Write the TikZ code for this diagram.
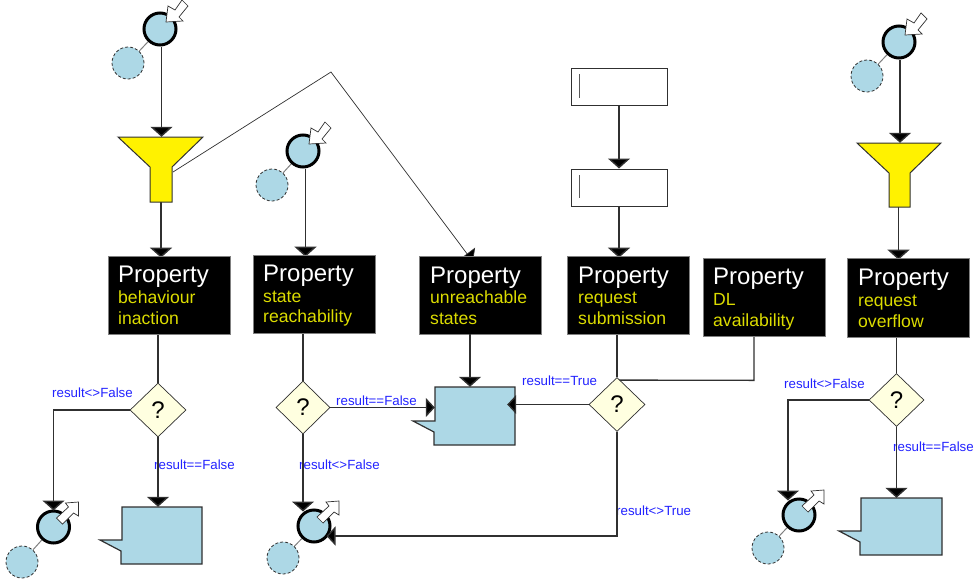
\documentclass[tikz,border=0pt]{standalone}
\usepackage{fontspec}
\setmainfont{Liberation Sans}
\usetikzlibrary{arrows.meta,shapes.geometric,calc}
\definecolor{bluefill}{HTML}{ADD8E6}
\definecolor{lineclr}{HTML}{303030}
\definecolor{labelblue}{HTML}{2222FF}
\definecolor{subyellow}{HTML}{DCDC00}
\definecolor{diamfill}{HTML}{FFFFE0}
\pgfdeclarelayer{bg}
\pgfsetlayers{bg,main}
\tikzset{
  conn/.style={draw=lineclr,line width=1.4pt},
  arr/.style={conn,-{Triangle[width=22pt,length=10pt,fill=black]}},
  arrs/.style={conn,-{Triangle[width=19pt,length=9pt,fill=black]}},
  bigc/.style={circle,draw=black,line width=3pt,fill=bluefill,minimum size=32pt,inner sep=0pt},
  smallc/.style={circle,draw=lineclr,line width=0.8pt,densely dashed,fill=bluefill,minimum size=32pt,inner sep=0pt},
  link/.style={draw=gray,line width=1pt},
  blockarrow/.style={draw=lineclr,line width=0.7pt,fill=white,line join=miter},
  propbox/.style={rectangle,draw=gray,line width=0.6pt,fill=black,inner sep=0pt},
  proptitle/.style={anchor=base west,inner sep=0pt,text=white,font=\fontsize{24}{24}\selectfont},
  propsub/.style={anchor=base west,inner sep=0pt,text=subyellow,font=\fontsize{17.6}{18}\selectfont},
  decide/.style={diamond,shape aspect=1,draw=lineclr,line width=0.7pt,fill=diamfill,inner sep=0pt,font=\fontsize{24}{24}\selectfont},
  cond/.style={anchor=base west,inner sep=0pt,text=labelblue,font=\fontsize{13.3}{14}\selectfont},
  ghost/.style={rectangle,draw=none,inner sep=0pt},
  msgshape/.style={draw=lineclr,line width=1.2pt,fill=bluefill,line join=miter},
  funnelshape/.style={draw=lineclr,line width=1pt,fill=yellow,line join=miter},
  inputbox/.style={rectangle,draw=lineclr,line width=1pt,fill=white,inner sep=0pt,minimum width=96pt,minimum height=37pt},
  cursorbar/.style={draw=gray!70!black,line width=1pt}
}
% start event: name, x, y, small x, small y
\newcommand{\evstart}[5]{%
  \node[smallc] (#1s) at (#4,#5) {};
  \node[bigc] (#1) at (#2,#3) {};
  \begin{pgfonlayer}{bg}\draw[link] (#1) -- (#1s);\end{pgfonlayer}
  \begin{scope}[shift={(#2,#3)}]
    \draw[blockarrow] (6,-7) -- (8,-23) -- (15,-19) -- (22,-29) -- (28,-23) -- (19,-12) -- (23,-8) -- cycle;
  \end{scope}}
\newcommand{\evfinish}[5]{%
  \node[smallc] (#1s) at (#4,#5) {};
  \node[bigc] (#1) at (#2,#3) {};
  \begin{pgfonlayer}{bg}\draw[link] (#1) -- (#1s);\end{pgfonlayer}
  \begin{scope}[shift={(#2,#3)}]
    \draw[blockarrow] (25,-25) -- (12,-24) -- (15,-20) -- (3,-9) -- (9,-3) -- (20,-14) -- (25,-11) -- cycle;
  \end{scope}}
% property: name, left, top, right, bottom, text x, base1, base2, base3, line2, line3
\newcommand{\propblock}[9]{%
  \node[propbox,minimum width=#4pt-#2pt,minimum height=#5pt-#3pt] (#1) at ({(#2+#4)/2},{(#3+#5)/2}) {};
  \def\tx{#6}\def\bA{#7}\def\bB{#8}\def\bC{#9}\propcont{#1}}
\newcommand{\propcont}[3]{%
  \node[proptitle] (#1t) at (\tx,\bA) {Property};
  \node[propsub] (#1a) at (\tx,\bB) {#2};
  \node[propsub] (#1b) at (\tx,\bC) {#3};}
% message: name, left, top, right, bottom, tail y1, tip x, tail y2
\newcommand{\msgblock}[8]{%
  \draw[msgshape] (#2,#3) -- (#4,#3) -- (#4,#5) -- (#2-1,#5) -- (#2-1,#8) -- (#7,#6) -- (#2,#6) -- cycle;
  \node[ghost,minimum width=#4pt-#2pt,minimum height=#5pt-#3pt] (#1) at ({(#2+#4)/2},{(#3+#5)/2}) {};}
% funnel: name, left, top, right, neck left, neck y, neck right, bottom
\newcommand{\funnelblock}[8]{%
  \draw[funnelshape] (#2,#3) -- (#4,#3) -- (#7,#6) -- (#7,#8) -- (#5,#8) -- (#5,#6) -- cycle;
  \node[ghost,minimum width=#4pt-#2pt,minimum height=#8pt-#3pt] (#1) at ({(#2+#4)/2},{(#3+#8)/2}) {};}
\begin{document}
\begin{tikzpicture}[x=1pt,y=-1pt]
\useasboundingbox (0,0) rectangle (975,584);

% events
\evstart{sa}{160}{29}{128}{63}
\evstart{sb}{303}{151}{272}{185}
\evstart{sc}{899}{42}{867}{76}
\evfinish{ea}{53.5}{527}{22}{562}
\evfinish{eb}{314}{526}{283}{558}
\evfinish{ec}{799}{515}{768}{548}

% funnels
\funnelblock{fa}{118}{137}{203}{150}{167}{172}{202}
\funnelblock{fb}{857}{143}{941}{889}{173}{910}{207}
\coordinate (fanear) at (173,172);
\coordinate (thinbend) at (331,72);

% property boxes
\propblock{pa}{108}{256}{230}{334}{118}{282}{303}{324}{behaviour}{inaction}
\propblock{pb}{253}{255}{375}{333}{263}{281}{302}{322}{state}{reachability}
\propblock{pc}{419}{256}{541}{334}{430}{283}{303}{324}{unreachable}{states}
\propblock{pd}{567}{256}{689}{334}{578}{283}{303}{324}{request}{submission}
\propblock{pe}{703}{258}{825}{336}{713}{284}{305}{326}{DL}{availability}
\propblock{pf}{847}{258}{969}{337}{858}{285}{306}{327}{request}{overflow}

% input boxes
\node[inputbox] (ra) at (619,86.5) {};
\node[inputbox] (rb) at (619,187.5) {};
\draw[cursorbar] (579,74) -- (579,98);
\draw[cursorbar] (579,175) -- (579,198);

% decisions
\node[decide,minimum width=56pt,minimum height=54pt] (da) at (158,410) {?};
\node[decide,minimum width=54pt,minimum height=53pt] (db) at (303,407.5) {?};
\node[decide,minimum width=56pt,minimum height=54pt] (dc) at (617,404.5) {?};
\node[decide,minimum width=55pt,minimum height=53pt] (dd) at (896.5,400) {?};

% messages
\msgblock{ma}{122}{507}{202}{564}{540}{100}{551}
\msgblock{mb}{435}{387}{515}{445}{421}{413}{432}
\msgblock{mc}{861}{498}{942}{555}{531}{839}{542}

\begin{pgfonlayer}{bg}
  % condition labels
  \node[cond] (la) at (52,397) {result<>False};
  \node[cond] (lb) at (154,469) {result==False};
  \node[cond] (lc) at (336,405) {result==False};
  \node[cond] (ld) at (299,469) {result<>False};
  \node[cond] (le) at (522,385) {result==True};
  \node[cond] (lf) at (616,515) {result<>True};
  \node[cond] (lg) at (784,388) {result<>False};
  \node[cond] (lh) at (893,451) {result==False};
  % arrows ending behind the property boxes
  \draw[arr,shorten >=-2pt] ([xshift=0.5pt]fa.south) -- ([xshift=0.5pt]fa.south |- pa.north);
  \draw[arr,shorten >=-2pt] ([xshift=2.5pt]sb.south) -- ([xshift=2.5pt]sb.south |- pb.north);
  \draw[arr,shorten >=-2pt] (rb.south) -- (rb.south |- pd.north);
  \draw[arr,shorten >=-2pt] ([xshift=-0.5pt]fb.south) -- ([xshift=-0.5pt]fb.south |- pf.north);
  \draw[draw=lineclr,line width=0.7pt,-{Triangle[width=20pt,length=10pt,fill=black]}] (fanear) -- (thinbend) -- ([shift={(-7,6)}]pc.north);
  % plain lines
  \draw[conn] (da.north |- pa.south) -- (da.north);
  \draw[conn] (db.north |- pb.south) -- (db.north);
  \draw[conn] (dc.north |- pd.south) -- (dc.north);
  \draw[conn] (dd.north |- pf.south) -- (dd.north);
  \draw[conn] ($(pe.south)+(-10,0)$) -- ($(pe.south)+(-10,44)$) -- ($(dc.north)+(1,3)$);
\end{pgfonlayer}

% arrows on top
\draw[arr] ([xshift=1.5pt]sa.south) -- ([xshift=1.5pt]sa.south |- fa.north);
\draw[arr] ([xshift=1pt]sc.south) -- ([xshift=1pt]sc.south |- fb.north);
\draw[arr] (ra.south) -- (rb.north);
\draw[arr] ($(pc.south)+(-10,0)$) -- ($(pc.south |- mb.north)+(-10,0)$);
\draw[arr] (da.west) -- (da.west -| ea.north) -- ($(ea.north)+(0,1)$);
\draw[arr] (da.south) -- (da.south |- ma.north);
\draw[arrs] (db.east) -- (db.east -| mb.west);
\draw[arr] (db.south) -- ($(db.south |- eb.north)+(0,3)$);
\draw[arrs] (dc.west) -- ($(dc.west -| mb.east)+(-8,0)$);
\coordinate (dccorner) at ($(dc.south |- eb.center)+(0,10)$);
\draw[arrs] (dc.south) -- (dccorner) -- ($(eb.east)+(-5,10)$);
\draw[arr] (dd.west) -- ($(dd.west -| ec.north)+(-11,0)$) -- ($(ec.north)+(-11,3)$);
\draw[arr] (dd.south) -- (dd.south |- mc.north);
\end{tikzpicture}
\end{document}
